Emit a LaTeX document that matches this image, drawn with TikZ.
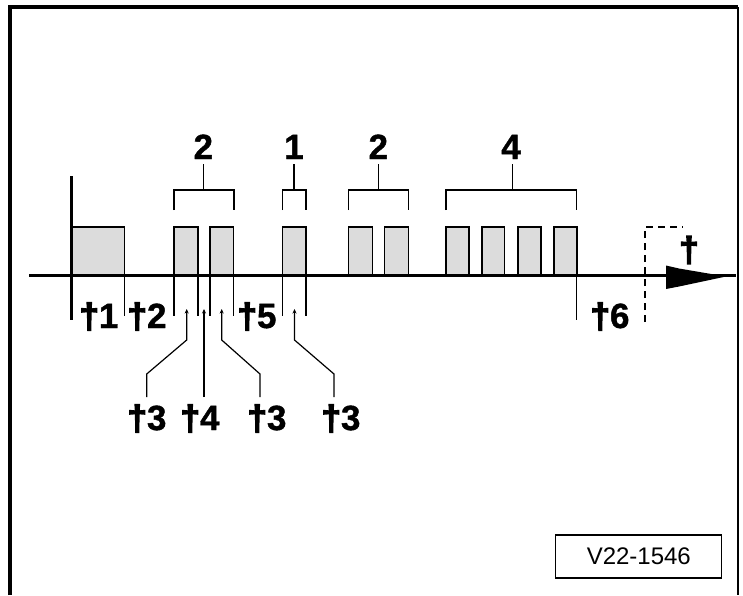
\documentclass[tikz,border=0pt]{standalone}
\usepackage{fontspec}
\setmainfont{Liberation Sans}
\newfontfamily\lblfont{Liberation Sans}[FakeBold=1.2]
\newfontfamily\dagfont{Liberation Sans}[FakeBold=4]
\newcommand{\dg}{{\dagfont\bfseries †}}
\usetikzlibrary{arrows.meta}
\definecolor{boxgray}{RGB}{220,220,220}
\begin{document}
\begin{tikzpicture}[x=1pt,y=-1pt,
  gbox/.style={draw=black, fill=boxgray, line width=1.6pt},
  axisline/.style={line width=3pt},
  tickline/.style={line width=1.4pt},
  brace/.style={line width=1.5pt},
  leader/.style={line width=1.2pt, -{Stealth[length=4.5pt,width=4pt]}},
  biglbl/.style={font=\fontsize{35}{35}\selectfont\lblfont\bfseries, inner sep=0pt, anchor=base},
  framel/.style={line width=3.5pt},
  idbox/.style={draw, line width=1.3pt, minimum width=166pt, minimum height=43pt, inner sep=0pt, font=\fontsize{24}{24}\selectfont}
]
\useasboundingbox (0,0) rectangle (743,595);
% frame
\draw[framel] (10,595) -- (10,7) -- (738,7);
\draw[line width=1.3pt] (738,7) -- (738,595);

% boxes
\draw[gbox] (71,227) rectangle (124.3,275);
\draw[gbox] (174,227) rectangle (198,275);
\draw[gbox] (210,227) rectangle (233.5,275);
\draw[gbox] (282.3,227) rectangle (306,275);
\draw[gbox] (348.3,227) rectangle (372.3,275);
\draw[gbox] (384.3,227) rectangle (408.3,275);
\draw[gbox] (446,227) rectangle (468.7,275);
\draw[gbox] (481.7,227) rectangle (504.3,275);
\draw[gbox] (518,227) rectangle (540.7,275);
\draw[gbox] (554,227) rectangle (576.7,275);

% ticks below axis
\foreach \x in {124.3,174,198,210,233.5,282.3,306}
  \draw[tickline] (\x,275) -- (\x,316);
\draw[tickline] (576.7,275) -- (576.7,320);
\draw[line width=1.3pt, dash pattern=on 7pt off 5pt] (645,322) -- (645,227) -- (683,227);

% axes
\draw[axisline] (71,176) -- (71,320);
\draw[axisline] (29,275.5) -- (736,275.5);
\fill (666,265.5) -- (679,268.5) -- (726,276.5) -- (679,286.5) -- (666,289) -- cycle;

% brackets and top labels
\draw[brace] (174,210) -- (174,190) -- (234,190) -- (234,210);
\draw[brace] (203.3,190) -- (203.3,164);
\node[biglbl] (g2a) at (203.3,159) {2};
\draw[brace] (282.3,210) -- (282.3,190) -- (306,190) -- (306,210);
\draw[brace] (294,190) -- (294,164);
\node[biglbl] (g1) at (294,159) {1};
\draw[brace] (348.3,210) -- (348.3,190) -- (408.3,190) -- (408.3,210);
\draw[brace] (378.3,190) -- (378.3,164);
\node[biglbl] (g2b) at (378.3,159) {2};
\draw[brace] (446,210) -- (446,190) -- (576.7,190) -- (576.7,210);
\draw[brace] (512.7,190) -- (512.7,164);
\node[biglbl] (g4) at (511,159) {4};

% labels below axis
\node[biglbl] (t1) at (99,328) {\dg1};
\node[biglbl] (t2) at (147,328) {\dg2};
\node[biglbl] (t5) at (257,328) {\dg5};
\node[biglbl] (t6) at (610,328) {\dg6};
\node[biglbl, anchor=center] (tt) at (689,250) {\dg};

% leaders
\coordinate (p3a) at (186.7,309);
\coordinate (p4) at (204,309);
\coordinate (p3b) at (221.7,309);
\coordinate (p3c) at (294.5,309);
\coordinate (b3a) at (146.7,397);
\coordinate (b4) at (204,397);
\coordinate (b3b) at (260,397);
\coordinate (b3c) at (334,397);
\draw[leader] (b3a) -- (146.7,374) -- (186.7,340) -- (p3a);
\draw[leader] (b4) -- (p4);
\draw[leader] (b3b) -- (260,374) -- (221.7,340) -- (p3b);
\draw[leader] (b3c) -- (334,374) -- (294.5,340) -- (p3c);
\node[biglbl] (l3a) at (147,430) {\dg3};
\node[biglbl] (l4) at (200,430) {\dg4};
\node[biglbl] (l3b) at (267,430) {\dg3};
\node[biglbl] (l3c) at (341,430) {\dg3};

% id box
\node[idbox] (id) at (638.8,556.6) {V22-1546};
\end{tikzpicture}
\end{document}
